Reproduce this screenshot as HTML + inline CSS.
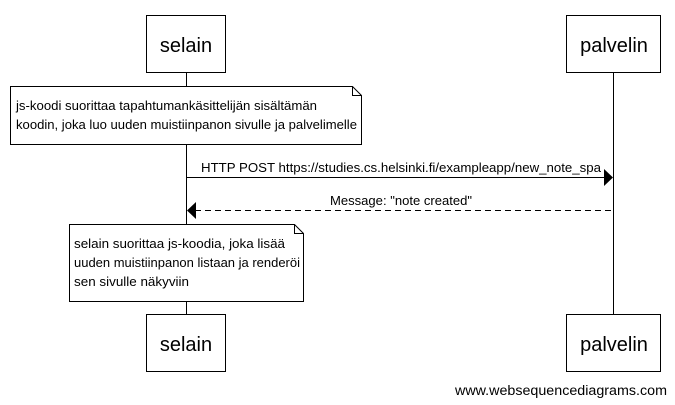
<!DOCTYPE html>
<html><head><meta charset="utf-8"><style>html,body{margin:0;padding:0;background:#fff;}svg{display:block}</style></head>
<body>
<svg width="675" height="405" xmlns="http://www.w3.org/2000/svg" font-family="Liberation Sans, Arial, sans-serif" fill="#000">
<line x1="186.5" y1="72" x2="186.5" y2="314" stroke="#000"/>
<line x1="613.5" y1="72" x2="613.5" y2="314" stroke="#000"/>
<rect x="146.5" y="15.5" width="79" height="57" fill="#fff" stroke="#000"/>
<rect x="566.5" y="15.5" width="94" height="57" fill="#fff" stroke="#000"/>
<rect x="146.5" y="314.5" width="79" height="57" fill="#fff" stroke="#000"/>
<rect x="566.5" y="314.5" width="94" height="57" fill="#fff" stroke="#000"/>
<text x="186" y="52" font-size="20" text-anchor="middle">selain</text>
<text x="614" y="52" font-size="20" text-anchor="middle">palvelin</text>
<text x="186" y="351" font-size="20" text-anchor="middle">selain</text>
<text x="614" y="351" font-size="20" text-anchor="middle">palvelin</text>
<path d="M10.5 86.5 H352.5 L361.5 95.5 V144.5 H10.5 Z" fill="#fff" stroke="#000"/>
<path d="M352.5 86.5 V95.5 H361.5" fill="none" stroke="#000"/>
<text x="16" y="110" font-size="12.5" textLength="301" lengthAdjust="spacingAndGlyphs">js-koodi suorittaa tapahtumankäsittelijän sisältämän</text>
<text x="16" y="129" font-size="12.5" textLength="341" lengthAdjust="spacingAndGlyphs">koodin, joka luo uuden muistiinpanon sivulle ja palvelimelle</text>
<line x1="186" y1="177.5" x2="606" y2="177.5" stroke="#000"/>
<path d="M604 169 L613 177.5 L604 186 Z"/>
<text x="201" y="172" font-size="12.5" textLength="400" lengthAdjust="spacingAndGlyphs">HTTP POST https://studies.cs.helsinki.fi/exampleapp/new_note_spa</text>
<line x1="195" y1="210.5" x2="613" y2="210.5" stroke="#000" stroke-dasharray="6,4"/>
<path d="M196 202 L187 210.5 L196 219 Z"/>
<text x="330" y="205" font-size="12.5" textLength="142" lengthAdjust="spacingAndGlyphs">Message: "note created"</text>
<path d="M69.5 224.5 H294.5 L303.5 233.5 V301.5 H69.5 Z" fill="#fff" stroke="#000"/>
<path d="M294.5 224.5 V233.5 H303.5" fill="none" stroke="#000"/>
<text x="74" y="248" font-size="12.5" textLength="211" lengthAdjust="spacingAndGlyphs">selain suorittaa js-koodia, joka lisää</text>
<text x="74" y="267" font-size="12.5" textLength="226" lengthAdjust="spacingAndGlyphs">uuden muistiinpanon listaan ja renderöi</text>
<text x="74" y="286" font-size="12.5" textLength="115" lengthAdjust="spacingAndGlyphs">sen sivulle näkyviin</text>
<text x="455" y="395" font-size="13.5" textLength="212" lengthAdjust="spacingAndGlyphs">www.websequencediagrams.com</text>
</svg>
</body></html>
